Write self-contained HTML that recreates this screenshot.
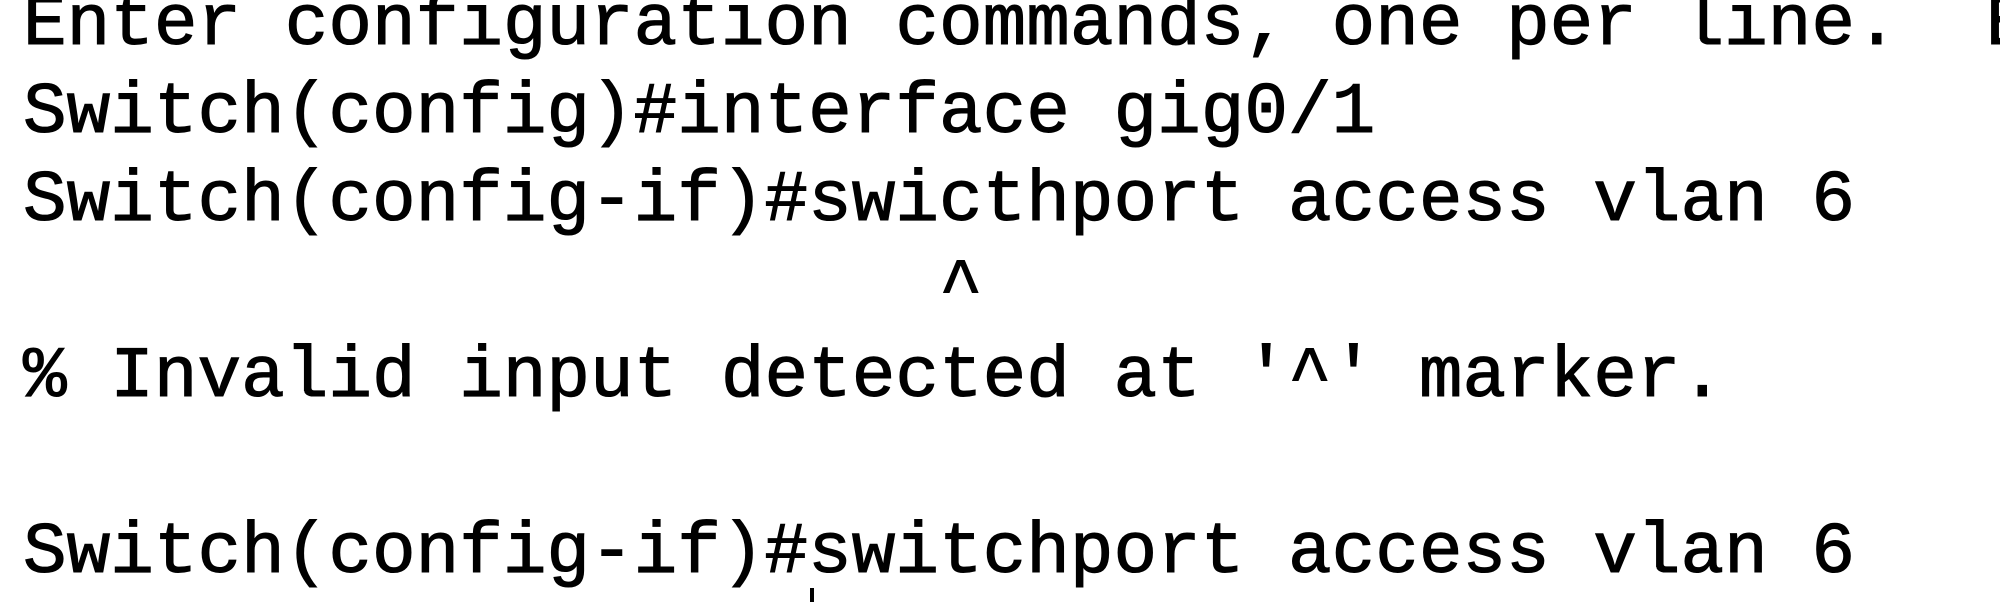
<!DOCTYPE html>
<html>
<head>
<meta charset="utf-8">
<style>
  html, body { margin:0; padding:0; background:#fff; }
  body { width:2000px; height:602px; overflow:hidden; position:relative; }
  .wrap { position:absolute; left:0; top:0; width:2000px; height:602px; overflow:hidden; }
  pre {
    position:absolute; left:23px; top:-19px; margin:0;
    font-family:"Liberation Mono", "Courier New", monospace;
    font-size:72.7px; line-height:88px; color:#000;
    -webkit-text-stroke:1.1px #000;
    white-space:pre;
  }
  .cur { position:absolute; left:810px; top:588px; width:4px; height:14px; background:#000; }
</style>
</head>
<body>
<div class="wrap">
<pre>Enter configuration commands, one per line.  E
Switch(config)#interface gig0/1
Switch(config-if)#swicthport access vlan 6
                     ^
% Invalid input detected at '^' marker.

Switch(config-if)#switchport access vlan 6</pre>
<div class="cur"></div>
</div>
</body>
</html>
